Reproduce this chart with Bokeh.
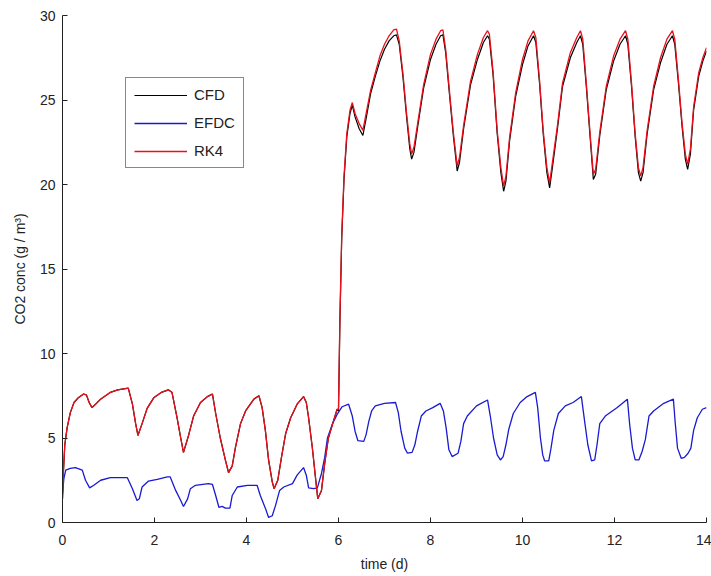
from bokeh.plotting import figure
from bokeh.models import Legend, LegendItem, FixedTicker, Range1d
from bokeh.embed import file_html
from bokeh.resources import INLINE

# ---------------- data ----------------
x_ticks = [0, 2, 4, 6, 8, 10, 12, 14]
y_ticks = [0, 5, 10, 15, 20, 25, 30]

rk4_t_low = [0, 0.02, 0.05, 0.1, 0.17, 0.25, 0.35, 0.46, 0.52, 0.58, 0.64, 0.72, 0.83,
             1.04, 1.2, 1.43, 1.52, 1.59, 1.64, 1.73, 1.84, 1.99, 2.15, 2.3, 2.38, 2.49,
             2.57, 2.63, 2.74, 2.85, 3.0, 3.15, 3.26, 3.33, 3.43, 3.54, 3.61, 3.69, 3.76,
             3.87, 3.98, 4.16, 4.27, 4.34, 4.41, 4.48, 4.56, 4.6, 4.68, 4.76, 4.85, 4.96,
             5.1, 5.24, 5.3, 5.35, 5.43, 5.5, 5.55, 5.63, 5.7, 5.78, 5.89, 5.97]
rk4_c_low = [1.4, 3.0, 4.6, 5.6, 6.5, 7.1, 7.4, 7.6, 7.55, 7.1, 6.8, 7.0, 7.3,
             7.7, 7.85, 7.95, 7.0, 5.85, 5.15, 5.85, 6.75, 7.4, 7.7, 7.85, 7.7, 6.2,
             5.0, 4.15, 5.15, 6.3, 7.1, 7.45, 7.6, 6.45, 5.0, 3.7, 2.95, 3.35, 4.45,
             5.85, 6.6, 7.3, 7.5, 6.8, 5.45, 3.7, 2.4, 2.0, 2.5, 3.85, 5.25, 6.2,
             7.0, 7.45, 7.1, 6.2, 4.45, 2.65, 1.4, 1.9, 3.5, 5.0, 6.0, 6.7]

rk4_t_high = [6.0, 6.03, 6.07, 6.12, 6.18, 6.25, 6.3, 6.36, 6.45, 6.53, 6.6, 6.7, 6.8,
              6.9, 7.0, 7.1, 7.2, 7.26, 7.32, 7.4, 7.48, 7.55, 7.59, 7.64, 7.72, 7.85,
              8.0, 8.12, 8.22, 8.27, 8.33, 8.42, 8.5, 8.58, 8.63, 8.72, 8.87, 9.02,
              9.15, 9.24, 9.28, 9.36, 9.45, 9.53, 9.59, 9.64, 9.72, 9.85, 10.0, 10.12,
              10.24, 10.29, 10.37, 10.45, 10.53, 10.59, 10.65, 10.76, 10.87, 11.04,
              11.18, 11.26, 11.31, 11.39, 11.47, 11.54, 11.59, 11.68, 11.82, 11.98,
              12.12, 12.24, 12.29, 12.37, 12.45, 12.52, 12.57, 12.62, 12.71, 12.85,
              13.0, 13.14, 13.26, 13.31, 13.39, 13.47, 13.54, 13.59, 13.65, 13.72,
              13.83, 13.92, 14.0]
rk4_c_high = [6.7, 12.0, 17.0, 20.5, 23.0, 24.4, 24.85, 24.2, 23.6, 23.2, 24.2, 25.6, 26.6,
              27.6, 28.3, 28.8, 29.15, 29.2, 28.5, 26.6, 24.2, 22.4, 21.8, 22.2, 23.6, 25.9,
              27.7, 28.6, 29.1, 29.15, 28.0, 25.3, 23.0, 21.1, 21.6, 23.5, 26.1, 27.7,
              28.7, 29.1, 28.9, 26.7, 23.2, 21.0, 19.9, 20.5, 22.8, 25.4, 27.4, 28.5,
              29.1, 28.7, 26.2, 23.2, 21.0, 20.1, 21.3, 23.5, 26.0, 27.8,
              28.7, 29.1, 28.6, 25.9, 23.0, 20.6, 20.9, 23.1, 25.8, 27.6,
              28.6, 29.1, 28.6, 26.0, 23.0, 21.0, 20.5, 21.0, 23.2, 25.8,
              27.5, 28.6, 29.1, 28.6, 26.2, 23.6, 21.8, 21.2, 22.1, 24.6,
              26.6, 27.5, 28.1]

cfd_c_high = [6.6, 11.8, 16.8, 20.3, 22.8, 24.2, 24.7, 24.0, 23.3, 22.9, 23.9, 25.4, 26.4,
              27.3, 28.0, 28.5, 28.8, 28.85, 28.3, 26.4, 24.0, 22.1, 21.5, 21.9, 23.4, 25.7,
              27.4, 28.3, 28.8, 28.85, 27.8, 25.1, 22.8, 20.8, 21.3, 23.3, 25.9, 27.4,
              28.4, 28.8, 28.6, 26.5, 23.0, 20.7, 19.6, 20.2, 22.6, 25.2, 27.1, 28.2,
              28.8, 28.4, 26.0, 23.0, 20.7, 19.8, 21.0, 23.3, 25.8, 27.5,
              28.4, 28.8, 28.3, 25.7, 22.8, 20.3, 20.6, 22.9, 25.6, 27.3,
              28.3, 28.8, 28.3, 25.8, 22.8, 20.7, 20.2, 20.7, 23.0, 25.6,
              27.2, 28.3, 28.8, 28.3, 26.0, 23.4, 21.5, 20.9, 21.8, 24.4,
              26.4, 27.3, 27.9]

efdc_t = [0, 0.03, 0.07, 0.17, 0.28, 0.43, 0.5, 0.59, 0.68, 0.83, 1.04, 1.41, 1.52,
          1.62, 1.67, 1.73, 1.87, 2.06, 2.28, 2.34, 2.46, 2.57, 2.63, 2.72, 2.78, 2.89,
          3.17, 3.26, 3.33, 3.4, 3.47, 3.54, 3.64, 3.69, 3.8, 4.02, 4.23, 4.3, 4.41,
          4.48, 4.56, 4.63, 4.72, 4.81, 5.0, 5.1, 5.24, 5.3, 5.35, 5.46, 5.54, 5.63,
          5.7, 5.76, 5.87, 5.97, 6.08, 6.22, 6.3, 6.36, 6.42, 6.55, 6.6, 6.66, 6.72,
          6.8, 7.0, 7.24, 7.3, 7.36, 7.44, 7.5, 7.6, 7.66, 7.72, 7.8, 7.9, 8.05, 8.21,
          8.28, 8.34, 8.4, 8.47, 8.6, 8.66, 8.72, 8.8, 9.0, 9.24, 9.3, 9.37, 9.45,
          9.52, 9.58, 9.64, 9.7, 9.8, 9.95, 10.1, 10.28, 10.33, 10.39, 10.44, 10.48,
          10.57, 10.62, 10.68, 10.78, 10.93, 11.1, 11.28, 11.35, 11.42, 11.5, 11.57,
          11.62, 11.68, 11.8, 12.06, 12.28, 12.33, 12.39, 12.45, 12.53, 12.6, 12.67,
          12.75, 12.85, 13.07, 13.28, 13.32, 13.37, 13.45, 13.52, 13.6, 13.66, 13.72,
          13.8, 13.91, 14.0]
efdc_c = [1.7, 2.6, 3.1, 3.2, 3.25, 3.1, 2.5, 2.05, 2.2, 2.5, 2.65, 2.65, 2.0,
          1.3, 1.4, 2.1, 2.45, 2.55, 2.7, 2.7, 1.9, 1.3, 0.95, 1.4, 2.0, 2.2,
          2.3, 2.25, 1.6, 0.9, 0.95, 0.85, 0.85, 1.6, 2.1, 2.2, 2.2, 1.6, 0.85,
          0.3, 0.4, 1.0, 1.9, 2.1, 2.3, 2.8, 3.25, 2.8, 2.05, 2.0, 2.05, 2.9,
          3.85, 5.0, 5.85, 6.4, 6.85, 7.0, 6.3, 5.4, 4.85, 4.8, 5.2, 6.0, 6.6,
          6.9, 7.05, 7.1, 6.5, 5.4, 4.4, 4.1, 4.15, 4.6, 5.4, 6.3, 6.6, 6.8, 7.05,
          6.6, 5.6, 4.3, 3.9, 4.1, 4.8, 5.85, 6.3, 6.9, 7.25, 6.3, 5.0, 4.0,
          3.7, 3.9, 4.6, 5.5, 6.45, 7.1, 7.45, 7.7, 6.8, 5.0, 4.0, 3.65,
          3.65, 4.4, 5.45, 6.45, 6.9, 7.1, 7.45, 6.0, 4.6, 3.65, 3.7,
          4.6, 5.85, 6.3, 6.8, 7.3, 5.8, 4.4, 3.7, 3.7, 4.2, 4.9,
          6.3, 6.6, 7.05, 7.3, 5.9, 4.4, 3.8, 3.85, 4.1, 4.4, 5.45,
          6.2, 6.7, 6.8]

rk4_t = rk4_t_low + rk4_t_high
rk4_c = rk4_c_low + rk4_c_high
cfd_t = rk4_t_low + rk4_t_high
cfd_c = rk4_c_low + cfd_c_high

series_names = ["CFD", "EFDC", "RK4"]
series_colors = ["#000000", "#1a1ad0", "#e8101c"]

FONT = "Liberation Sans"

# ---------------- figure ----------------
p = figure(width=711, height=576, output_backend="svg", toolbar_location=None,
           x_range=Range1d(0, 14), y_range=Range1d(0, 30),
           min_border_left=62, min_border_right=5, min_border_top=15,
           min_border_bottom=54, background_fill_color="white",
           border_fill_color="white")
p.outline_line_color = None
p.grid.visible = False

r_cfd = p.line(cfd_t, cfd_c, line_color=series_colors[0], line_width=1.2)
r_efdc = p.line(efdc_t, efdc_c, line_color=series_colors[1], line_width=1.3)
r_rk4 = p.line(rk4_t, rk4_c, line_color=series_colors[2], line_width=1.3)

for ax in (p.xaxis[0], p.yaxis[0]):
    ax.axis_line_color = "#222222"
    ax.major_tick_line_color = "#222222"
    ax.minor_tick_line_color = None
    ax.major_tick_in = 5
    ax.major_tick_out = 0
    ax.major_label_text_font = FONT
    ax.major_label_text_font_size = "14px"
    ax.major_label_text_color = "#222222"
    ax.axis_label_text_font = FONT
    ax.axis_label_text_font_size = "14px"
    ax.axis_label_text_font_style = "normal"
    ax.axis_label_text_color = "#222222"

p.xaxis.ticker = FixedTicker(ticks=x_ticks)
p.yaxis.ticker = FixedTicker(ticks=y_ticks)
p.xaxis.major_label_standoff = 12
p.yaxis.major_label_standoff = 7
p.xaxis.axis_label = "time (d)"
p.yaxis.axis_label = "CO2 conc (g / m³)"
p.xaxis.axis_label_standoff = 8
p.yaxis.axis_label_standoff = 9

legend = Legend(items=[LegendItem(label=series_names[0], renderers=[r_cfd]),
                       LegendItem(label=series_names[1], renderers=[r_efdc]),
                       LegendItem(label=series_names[2], renderers=[r_rk4])],
                location=(63, 354), orientation="vertical")
legend.border_line_color = "#111111"
legend.border_line_width = 1
legend.background_fill_color = "white"
legend.background_fill_alpha = 1.0
legend.label_text_font = FONT
legend.label_text_font_size = "15px"
legend.label_text_color = "#222222"
legend.glyph_width = 53
legend.glyph_height = 16
legend.label_height = 16
legend.spacing = 11
legend.padding = 8
legend.margin = 0
legend.label_standoff = 7
p.add_layout(legend, "center")

open("out.html", "w").write(file_html(p, INLINE))
